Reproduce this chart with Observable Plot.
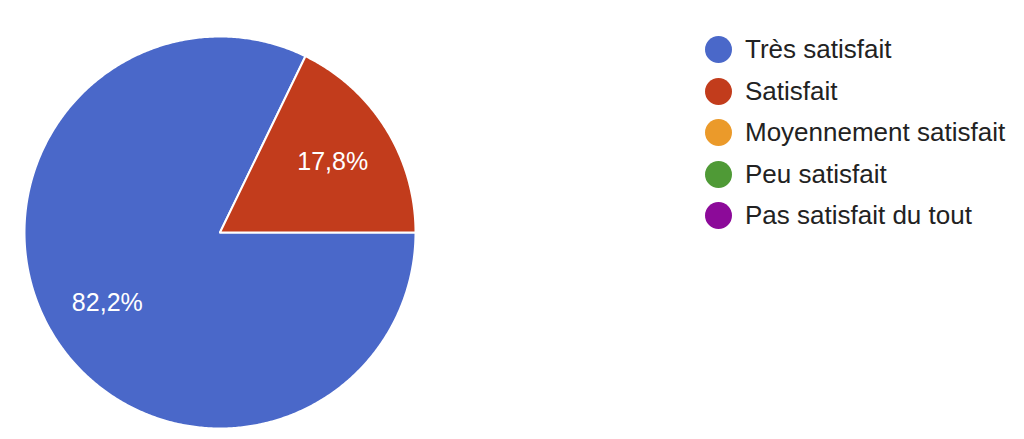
<!DOCTYPE html>
<html>
<head>
<meta charset="utf-8">
<script src="https://cdn.jsdelivr.net/npm/d3@7"></script>
<script src="https://cdn.jsdelivr.net/npm/@observablehq/plot@0.6"></script>
<style>
  html, body { margin: 0; padding: 0; background: #fff; }
  #wrap { position: relative; width: 1024px; height: 439px; font-family: "Liberation Sans", Arial, Helvetica, sans-serif; }
  #legend { position: absolute; left: 705px; top: 29px; }
  .row { display: flex; align-items: center; height: 41.5px; }
  .sw { width: 27px; height: 27px; border-radius: 50%; margin-right: 13px; flex: none; }
  .lab { font-size: 26px; color: #222; white-space: nowrap; }
</style>
</head>
<body>
<div id="wrap"><div id="chart"></div><div id="legend"></div></div>
<script>
const categories = ["Très satisfait", "Satisfait", "Moyennement satisfait", "Peu satisfait", "Pas satisfait du tout"];
const values = [82.2, 17.8, 0, 0, 0];
const colors = ["#4a68c9", "#c23c1c", "#eb9a2a", "#4f9a36", "#8c0a99"];

const data = categories.map((c, i) => ({key: c, value: values[i]}));
const pie = d3.pie().value(d => d.value).sort(null).startAngle(Math.PI / 2).endAngle(Math.PI / 2 + 2 * Math.PI);
const arcs = pie(data).filter(a => a.data.value > 0);

// polygon points for each slice (center, arc, center)
const poly = [];
for (const a of arcs) {
  const n = Math.max(2, Math.ceil((a.endAngle - a.startAngle) / (Math.PI / 360)));
  poly.push({key: a.data.key, x: 0, y: 0});
  for (let i = 0; i <= n; i++) {
    const t = a.startAngle + (a.endAngle - a.startAngle) * i / n;
    poly.push({key: a.data.key, x: Math.sin(t), y: Math.cos(t)});
  }
  poly.push({key: a.data.key, x: 0, y: 0});
}
const labels = arcs.map(a => {
  const m = (a.startAngle + a.endAngle) / 2;
  return {x: 0.68 * Math.sin(m), y: 0.68 * Math.cos(m), text: a.data.value.toFixed(1).replace(".", ",") + "%"};
});

const chart = Plot.plot({
  width: 1024,
  height: 439,
  marginLeft: 24,
  marginRight: 1024 - 415,
  marginTop: 36,
  marginBottom: 439 - 428,
  x: {domain: [-1, 1], axis: null},
  y: {domain: [-1, 1], axis: null},
  color: {domain: categories, range: colors},
  style: {fontFamily: "'Liberation Sans', Arial, Helvetica, sans-serif", background: "#fff"},
  marks: [
    Plot.line(poly, {x: "x", y: "y", z: "key", fill: "key", stroke: "#fff", strokeWidth: 2, strokeLinejoin: "round"}),
    Plot.text(labels, {x: "x", y: "y", text: "text", fill: "#fff", fontSize: 25})
  ]
});
document.getElementById("chart").appendChild(chart);

const legend = document.getElementById("legend");
categories.forEach((c, i) => {
  const row = document.createElement("div");
  row.className = "row";
  row.innerHTML = `<div class="sw" style="background:${colors[i]}"></div><div class="lab">${c}</div>`;
  legend.appendChild(row);
});
</script>
</body>
</html>
